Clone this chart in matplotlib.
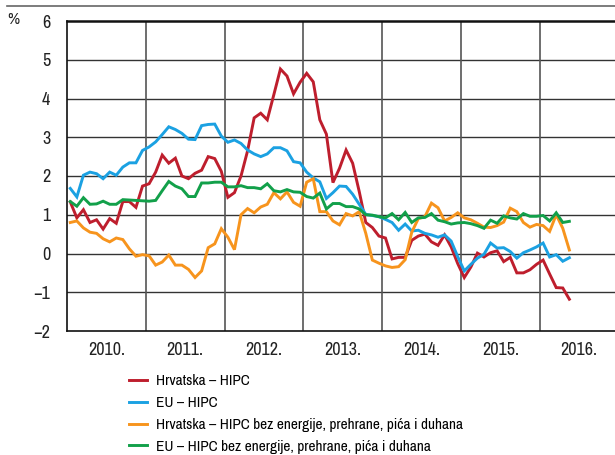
import numpy as np
import matplotlib
matplotlib.use("Agg")
import matplotlib.pyplot as plt
from matplotlib.lines import Line2D

plt.rcParams['font.family'] = ['Archivo Narrow', 'DejaVu Sans']

# monthly data, Jan 2010 - May 2016 (annual rates, %)
hr_hipc = [1.33, 0.92, 1.13, 0.80, 0.87, 0.63, 0.90, 0.78, 1.34, 1.34, 1.19, 1.74,
           1.80, 2.10, 2.54, 2.33, 2.46, 2.00, 1.93, 2.07, 2.15, 2.50, 2.45, 2.12,
           1.45, 1.57, 2.00, 2.65, 3.50, 3.62, 3.45, 4.10, 4.76, 4.58, 4.12, 4.42,
           4.65, 4.43, 3.45, 3.08, 1.83, 2.20, 2.67, 2.33, 1.60, 0.80, 0.67, 0.45,
           0.40, -0.14, -0.10, -0.10, 0.34, 0.45, 0.50, 0.30, 0.21, 0.48, 0.17, -0.26,
           -0.62, -0.35, 0.01, -0.09, 0.02, 0.07, -0.21, -0.10, -0.50, -0.50, -0.42, -0.28,
           -0.17, -0.53, -0.88, -0.89, -1.18]
eu_hipc = [1.68, 1.46, 2.02, 2.10, 2.06, 1.93, 2.10, 2.02, 2.23, 2.34, 2.34, 2.66,
           2.75, 2.88, 3.07, 3.27, 3.20, 3.10, 2.95, 2.94, 3.30, 3.33, 3.34, 3.03,
           2.87, 2.93, 2.84, 2.67, 2.57, 2.50, 2.57, 2.73, 2.73, 2.65, 2.37, 2.34,
           2.10, 1.95, 1.85, 1.42, 1.57, 1.74, 1.73, 1.53, 1.27, 1.01, 0.98, 0.95,
           0.88, 0.80, 0.60, 0.76, 0.58, 0.60, 0.52, 0.48, 0.42, 0.48, 0.32, -0.08,
           -0.45, -0.28, -0.12, -0.02, 0.27, 0.14, 0.15, 0.05, -0.12, 0.02, 0.09, 0.17,
           0.27, -0.09, -0.03, -0.20, -0.11]
hr_core = [0.80, 0.84, 0.66, 0.55, 0.52, 0.38, 0.30, 0.40, 0.36, 0.12, -0.07, -0.03,
           -0.06, -0.30, -0.22, -0.04, -0.30, -0.30, -0.41, -0.62, -0.45, 0.15, 0.25, 0.64,
           0.42, 0.10, 1.00, 1.16, 1.05, 1.20, 1.27, 1.57, 1.41, 1.59, 1.32, 1.22,
           1.84, 1.93, 1.08, 1.08, 0.84, 0.74, 1.03, 0.97, 1.08, 0.52, -0.17, -0.25,
           -0.32, -0.36, -0.34, -0.16, 0.55, 0.90, 0.95, 1.30, 1.18, 0.84, 0.93, 1.05,
           0.92, 0.87, 0.78, 0.68, 0.67, 0.72, 0.81, 1.17, 1.08, 0.80, 0.68, 0.75,
           0.72, 0.57, 1.00, 0.65, 0.09]
eu_core = [1.34, 1.22, 1.44, 1.27, 1.28, 1.35, 1.27, 1.27, 1.39, 1.38, 1.37, 1.36,
           1.35, 1.37, 1.62, 1.86, 1.74, 1.67, 1.47, 1.47, 1.82, 1.82, 1.84, 1.84,
           1.72, 1.72, 1.75, 1.70, 1.70, 1.67, 1.80, 1.62, 1.59, 1.65, 1.59, 1.58,
           1.47, 1.43, 1.56, 1.15, 1.29, 1.29, 1.21, 1.21, 1.15, 1.00, 0.99, 0.95,
           0.92, 1.03, 0.87, 1.06, 0.80, 0.92, 0.93, 1.03, 0.86, 0.82, 0.76, 0.79,
           0.80, 0.77, 0.72, 0.65, 0.86, 0.78, 0.97, 0.92, 0.89, 1.03, 0.96, 0.96,
           0.98, 0.84, 1.05, 0.80, 0.83]

labels = ['Hrvatska – HIPC', 'EU – HIPC',
          'Hrvatska – HIPC bez energije, prehrane, pića i duhana',
          'EU – HIPC bez energije, prehrane, pića i duhana']
colors = ['#BE1E2D', '#1BA1E2', '#F7941D', '#12A04A']
years = [2010, 2011, 2012, 2013, 2014, 2015, 2016]

t = 2010 + (np.arange(len(hr_hipc)) + 0.5) / 12

fig = plt.figure(figsize=(6.15, 4.55), dpi=100)
ax = fig.add_axes([67 / 615, 124 / 455, 548 / 615, 310 / 455])

for y in range(-1, 6):
    ax.axhline(y, color='#333333', lw=1.0, zorder=1)
for yr in years[1:]:
    ax.axvline(yr, color='#555555', lw=1.2, zorder=1)

series = [hr_hipc, eu_hipc, hr_core, eu_core]
for s, c in zip(series, colors):
    ax.plot(t, s, color=c, lw=2.1, zorder=3, solid_joinstyle='miter')

ax.set_xlim(2010, 2010 + 548 / 78.8)
ax.set_ylim(-2, 6)
ax.set_yticks(range(-2, 7))
ax.set_yticklabels(['\u22122' if v == -2 else ('\u22121' if v == -1 else str(v)) for v in range(-2, 7)])
ax.set_xticks([y + 0.5 for y in years])
ax.set_xticklabels([f'{y}.' for y in years])
ax.tick_params(length=0, labelsize=13, colors='#222222')
ax.tick_params(axis='y', pad=12)
ax.tick_params(axis='x', pad=8)

ax.spines['right'].set_visible(False)
ax.spines['top'].set_linewidth(1.8)
ax.spines['left'].set_linewidth(1.2)
ax.spines['bottom'].set_linewidth(1.2)
for sp in ax.spines.values():
    sp.set_color('#111111')

fig.text(7 / 615, 1 - 20 / 455, '%', fontsize=12, va='center', ha='left', color='#222222')
fig.add_artist(Line2D([7 / 615, 1], [1 - 6 / 455, 1 - 6 / 455], color='#666666', lw=1.2))

handles = [Line2D([], [], color=c, lw=2.1) for c in colors]
fig.legend(handles, labels, loc='upper left', bbox_to_anchor=(129 / 615, 1 - 374 / 455),
           frameon=False, fontsize=11, handlelength=1.2, handletextpad=0.55,
           labelspacing=0.52, borderpad=0, borderaxespad=0)

fig.savefig('out.png', dpi=100)
